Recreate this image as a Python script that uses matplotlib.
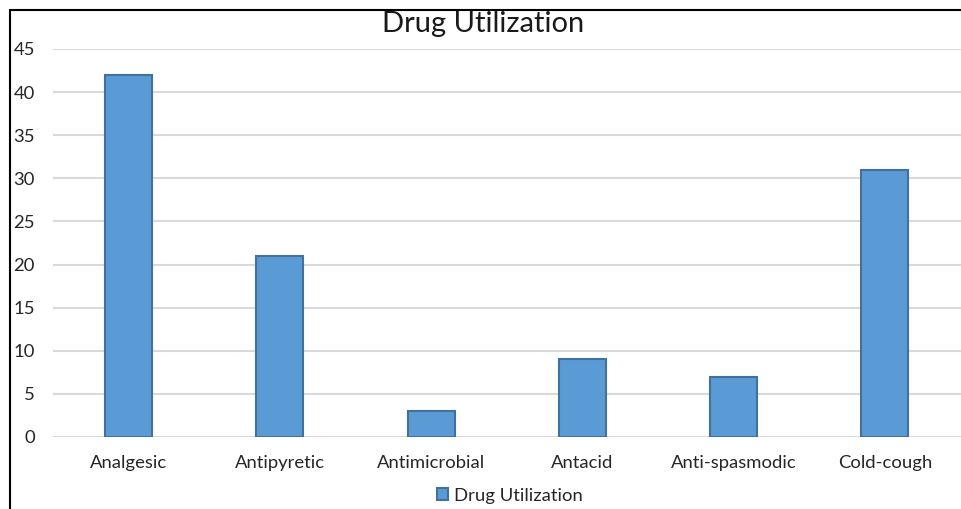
import matplotlib.pyplot as plt
from matplotlib.patches import Rectangle

# Drug utilization counts by category
categories = ['Analgesic', 'Antipyretic', 'Antimicrobial', 'Antacid', 'Anti-spasmodic', 'Cold-cough']
utilization = [42, 21, 3, 9, 7, 31]
y_ticks = [0, 5, 10, 15, 20, 25, 30, 35, 40, 45]

plt.rcParams['font.family'] = ['Lato', 'DejaVu Sans']

fig = plt.figure(figsize=(9.62, 5.09), dpi=100)
ax = fig.add_axes([0.055, 0.1415, 0.9435, 0.7623])

x = range(len(categories))
ax.bar(x, utilization, width=0.31, color='#5B9BD5', edgecolor='#41719C',
       linewidth=1.5, zorder=3, label='Drug Utilization')

ax.set_xlim(-0.5, len(categories) - 0.5)
ax.set_ylim(0, 45)
ax.set_yticks(y_ticks)
ax.set_xticks(list(x))
ax.set_xticklabels(categories)

# Light horizontal gridlines, no axis spines
ax.grid(axis='y', color='#D9D9D9', linewidth=1.5, zorder=0)
for spine in ax.spines.values():
    spine.set_visible(False)
ax.tick_params(axis='both', length=0, labelsize=13.3, colors='#262626')
ax.tick_params(axis='y', pad=13)
ax.tick_params(axis='x', pad=13)

fig.text(0.502, 0.953, 'Drug Utilization', ha='center', va='center',
         fontsize=21, color='#1a1a1a')

fig.legend(loc='center', bbox_to_anchor=(0.53, 0.026), frameon=False,
           fontsize=13.3, handlelength=0.6, handleheight=0.6, handletextpad=0.35,
           labelcolor='#262626')

# Frame line on the left and top edges
fig.add_artist(Rectangle((9.5 / 962, -0.1), 1.2, 1.1 - 9.5 / 509,
                         transform=fig.transFigure, fill=False,
                         edgecolor='black', linewidth=1.5))

fig.savefig('out.png', dpi=100)
